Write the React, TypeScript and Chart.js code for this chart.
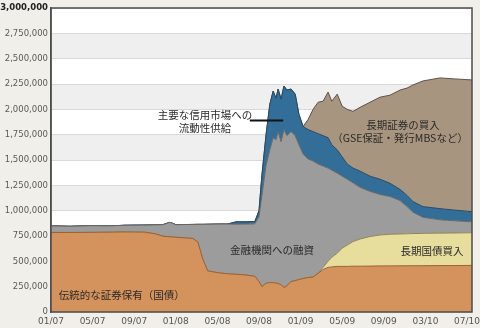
import React, { useEffect, useRef } from "react";
import { Chart, registerables } from "chart.js";

Chart.register(...registerables);

// x tick labels (one per equal step on the axis)
const xLabels = ["01/07", "05/07", "09/07", "01/08", "05/08", "09/08", "01/09", "05/09", "09/09", "03/10", "07/10"];

// sample positions, in tick-label steps
const xPos = [
  0.0, 0.46, 0.94, 1.42, 1.78, 2.26, 2.5, 2.69, 2.86, 3.0, 3.41, 3.53, 3.65, 3.77, 4.06, 4.25, 4.45, 4.69, 4.9,
  5.0, 5.07, 5.17, 5.26, 5.34, 5.41, 5.46, 5.53, 5.6, 5.67, 5.77, 5.87, 5.96, 6.06, 6.18, 6.3, 6.42, 6.54, 6.66,
  6.75, 6.88, 7.0, 7.12, 7.26, 7.43, 7.67, 7.91, 8.15, 8.39, 8.56, 8.7, 8.94, 9.35, 9.71, 10.12,
];

// 伝統的な証券保有（国債）
const traditional = [
  785000, 785000, 786000, 788000, 790000, 788000, 772000, 748000, 742000, 738000, 726000, 690000, 520000, 405000,
  385000, 377000, 372000, 365000, 352000, 300000, 250000, 285000, 290000, 290000, 285000, 280000, 270000, 240000,
  260000, 300000, 310000, 320000, 330000, 340000, 345000, 380000, 420000, 440000, 445000, 450000, 450000, 450000,
  452000, 452000, 453000, 455000, 455000, 456000, 456000, 457000, 457000, 458000, 458000, 460000,
];

// 長期国債買入
const longTreasury = [
  0, 0, 0, 0, 0, 0, 0, 0, 0, 0, 0, 0, 0, 0, 0, 0, 0, 0, 0, 0, 0, 0, 0, 0, 0, 0, 0, 0, 0, 0, 0, 0, 0, 0, 0,
  5000, 20000, 60000, 95000, 130000, 180000, 210000, 243000, 268000, 292000, 305000, 312000, 314000, 316000,
  317000, 319000, 320000, 322000, 322000,
];

// 金融機関への融資
const lending = [
  65000, 61000, 66000, 62000, 66000, 70000, 88000, 114000, 143000, 124000, 138000, 175000, 345000, 461000,
  483000, 491000, 494000, 503000, 518000, 640000, 900000, 1165000, 1310000, 1430000, 1415000, 1500000, 1410000,
  1560000, 1480000, 1480000, 1430000, 1330000, 1230000, 1170000, 1145000, 1075000, 1000000, 920000, 860000,
  790000, 710000, 650000, 580000, 510000, 445000, 400000, 373000, 330000, 268000, 211000, 159000, 132000, 120000,
  108000,
];

// 主要な信用市場への流動性供給
const liquidity = [
  0, 0, 0, 0, 0, 0, 0, 0, 0, 0, 0, 0, 0, 0, 0, 0, 24000, 22000, 22000, 60000, 200000, 300000, 450000, 460000,
  410000, 420000, 420000, 430000, 450000, 420000, 410000, 300000, 270000, 290000, 290000, 300000, 300000, 300000,
  250000, 230000, 190000, 150000, 145000, 160000, 150000, 150000, 130000, 110000, 110000, 105000, 105000, 110000,
  105000, 100000,
];

// 長期証券の買入（GSE保証・発行MBSなど）
const longSecurities = [
  0, 0, 0, 0, 0, 0, 0, 0, 0, 0, 0, 0, 0, 0, 0, 0, 0, 0, 0, 0, 0, 0, 0, 0, 0, 0, 0, 0, 0, 0, 0, 0, 0, 100000,
  220000, 310000, 340000, 450000, 430000, 550000, 500000, 540000, 560000, 630000, 730000, 810000, 870000, 980000,
  1060000, 1150000, 1240000, 1290000, 1295000, 1300000,
];

const yTicks = [0, 250000, 500000, 750000, 1000000, 1250000, 1500000, 1750000, 2000000, 2250000, 2500000, 2750000, 3000000];

const labelTexts = [
  { text: "主要な信用市場への", x: 3.7, y: 1944000 },
  { text: "流動性供給", x: 3.7, y: 1816000 },
  { text: "長期証券の買入", x: 8.46, y: 1845000 },
  { text: "（GSE保証・発行MBSなど）", x: 8.39, y: 1717000 },
  { text: "金融機関への融資", x: 5.31, y: 612000 },
  { text: "長期国債買入", x: 9.16, y: 602000 },
  { text: "伝統的な証券保有（国債）", x: 1.7, y: 168000 },
];
const pointerLine = { x0: 4.78, x1: 5.58, y: 1890000 };

const series = [
  { data: traditional, bg: "#d4935c", border: "#9a6234" },
  { data: longTreasury, bg: "#e7de9e", border: "#8f8656" },
  { data: lending, bg: "#9c9c9c", border: "#666666" },
  { data: liquidity, bg: "#336e98", border: "#234a66" },
  { data: longSecurities, bg: "#a8957f", border: "#5e5246" },
];

const decorPlugin = {
  id: "decor",
  beforeDraw(chart: any) {
    const { ctx, chartArea: a, scales } = chart;
    const y = scales.y;
    ctx.save();
    ctx.fillStyle = "#f0efe9";
    ctx.fillRect(0, 0, chart.width, chart.height);
    for (let i = 0; i < yTicks.length - 1; i++) {
      const top = y.getPixelForValue(yTicks[i + 1]);
      const bot = y.getPixelForValue(yTicks[i]);
      ctx.fillStyle = i % 2 === 0 ? "#efefef" : "#ffffff";
      ctx.fillRect(a.left, top, a.right - a.left, bot - top);
    }
    ctx.restore();
  },
  afterDatasetsDraw(chart: any) {
    const { ctx, chartArea: a, scales } = chart;
    const xs = scales.x;
    const ys = scales.y;
    ctx.save();
    ctx.font = '10.5px "Noto Sans CJK JP", sans-serif';
    ctx.fillStyle = "#2a2a2a";
    ctx.textAlign = "center";
    ctx.textBaseline = "middle";
    for (const l of labelTexts) {
      ctx.fillText(l.text, xs.getPixelForValue(l.x), ys.getPixelForValue(l.y));
    }
    ctx.strokeStyle = "#111111";
    ctx.lineWidth = 2;
    ctx.beginPath();
    const ly = Math.round(ys.getPixelForValue(pointerLine.y)) + 0.5;
    ctx.moveTo(xs.getPixelForValue(pointerLine.x0), ly);
    ctx.lineTo(xs.getPixelForValue(pointerLine.x1), ly);
    ctx.stroke();
    ctx.strokeStyle = "#4d4d4d";
    ctx.lineWidth = 1.5;
    ctx.strokeRect(a.left, a.top, a.right - a.left, a.bottom - a.top);
    ctx.restore();
  },
};

export default function App() {
  const ref = useRef<HTMLCanvasElement>(null);
  useEffect(() => {
    if (!ref.current) return;
    const chart = new Chart(ref.current, {
      type: "line",
      data: {
        datasets: series.map((s, i) => ({
          data: s.data.map((v, j) => ({ x: xPos[j], y: v })),
          backgroundColor: s.bg,
          borderColor: s.border,
          borderWidth: 1,
          fill: i === 0 ? "origin" : "-1",
          pointRadius: 0,
          tension: 0,
        })),
      },
      plugins: [decorPlugin],
      options: {
        animation: false,
        responsive: false,
        events: [],
        layout: { padding: { top: 8, right: 8, left: 0, bottom: 0 } },
        plugins: { legend: { display: false }, tooltip: { enabled: false } },
        scales: {
          x: {
            type: "linear",
            min: 0,
            max: 10.12,
            grid: { display: false, drawTicks: false },
            border: { display: false },
            afterBuildTicks: (ax: any) => {
              ax.ticks = xLabels.map((_, i) => ({ value: i }));
            },
            afterFit: (s: any) => {
              s.height = 16;
              s.paddingLeft = 0;
              s.paddingRight = 0;
            },
            ticks: {
              autoSkip: false,
              maxRotation: 0,
              padding: 4,
              color: "#555555",
              font: { family: "DejaVu Sans", size: 9 },
              callback: (v: any) => xLabels[Math.round(v)],
            },
          },
          y: {
            stacked: true,
            min: 0,
            max: 3000000,
            afterBuildTicks: (ax: any) => {
              ax.ticks = yTicks.map((v) => ({ value: v }));
            },
            afterFit: (s: any) => {
              s.width = 51;
              s.paddingTop = 0;
              s.paddingBottom = 0;
            },
            grid: { color: "#d9d9d9", lineWidth: 1, drawTicks: false },
            border: { display: true, color: "#4d4d4d", width: 1.5 },
            ticks: {
              padding: 3,
              color: (c: any) => (c.tick && c.tick.value === 3000000 ? "#222222" : "#5a5a5a"),
              font: (c: any) =>
                c.tick && c.tick.value === 3000000
                  ? { family: "DejaVu Sans", size: 8.5, weight: "bold" }
                  : { family: "DejaVu Sans", size: 8.5 },
              callback: (v: any) => Number(v).toLocaleString("en-US"),
            },
          },
        },
      },
    });
    return () => chart.destroy();
  }, []);
  return (
    <div style={{ position: "absolute", left: 0, top: 0, width: 480, height: 328 }}>
      <canvas ref={ref} width={480} height={328} style={{ display: "block" }} />
    </div>
  );
}
